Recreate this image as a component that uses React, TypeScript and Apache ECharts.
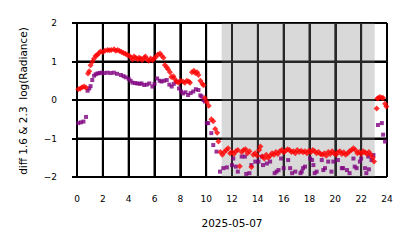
import React, { useEffect, useRef } from "react";
import * as echarts from "echarts";

const xTicks = [0, 2, 4, 6, 8, 10, 12, 14, 16, 18, 20, 22, 24];
const yTicks = [-2, -1, 0, 1, 2];
const xTitle = "2025-05-07";
const yTitle = "diff 1.6 & 2.3  log(Radiance)";
const shadeRange = [11.2, 23.05];

const redSeries: [number, number][] = [
  [0.1, 0.28], [0.25, 0.3], [0.4, 0.33], [0.55, 0.35], [0.7, 0.32], [0.85, 0.69], [0.95, 0.75], [1.05, 0.9],
  [1.2, 1.0], [1.32, 1.08], [1.45, 1.15], [1.57, 1.17], [1.7, 1.22], [1.83, 1.26], [2.0, 1.25], [2.15, 1.28],
  [2.35, 1.3], [2.5, 1.29], [2.65, 1.3], [2.87, 1.32], [3.0, 1.28], [3.15, 1.3], [3.3, 1.27], [3.45, 1.25],
  [3.6, 1.22], [3.75, 1.2], [3.9, 1.17], [4.05, 1.15], [4.2, 1.1], [4.3, 1.05], [4.42, 1.13], [4.55, 1.1],
  [4.7, 1.05], [4.8, 1.1], [4.93, 1.08], [5.05, 1.03], [5.2, 1.1], [5.3, 1.13], [5.45, 1.05], [5.55, 1.02],
  [5.7, 1.08], [5.85, 1.03], [5.95, 1.08], [6.1, 1.12], [6.25, 1.18], [6.43, 1.21], [6.55, 1.15], [6.7, 1.1],
  [6.8, 0.91], [6.95, 0.85], [7.05, 0.8], [7.2, 0.72], [7.3, 0.6], [7.46, 0.62], [7.55, 0.55], [7.7, 0.48],
  [7.85, 0.45], [8.0, 0.5], [8.2, 0.48], [8.35, 0.45], [8.5, 0.5], [8.65, 0.48], [8.75, 0.45], [8.9, 0.72],
  [9.05, 0.76], [9.15, 0.7], [9.3, 0.72], [9.4, 0.65], [9.55, 0.5], [9.7, 0.42], [9.8, 0.38], [9.9, 0.05],
  [10.05, -0.05], [10.2, -0.15], [10.4, -0.5], [10.55, -0.55], [10.7, -0.75], [10.85, -0.85], [10.95, -1.08],
  [11.1, -1.35], [11.25, -1.42], [11.4, -1.35], [11.55, -1.3], [11.7, -1.25], [11.85, -1.38], [12.0, -1.35],
  [12.15, -1.4], [12.3, -1.33], [12.45, -1.3], [12.6, -1.72], [12.75, -1.35], [12.9, -1.3], [13.05, -1.28],
  [13.2, -1.38], [13.35, -1.33], [13.5, -1.74], [13.65, -1.42], [13.8, -1.38], [13.95, -1.45], [14.1, -1.3],
  [14.2, -1.21], [14.35, -1.47], [14.5, -1.52], [14.65, -1.42], [14.8, -1.5], [14.95, -1.45], [15.1, -1.38],
  [15.25, -1.42], [15.4, -1.35], [15.55, -1.4], [15.7, -1.33], [15.85, -1.3], [16.0, -1.36], [16.15, -1.32],
  [16.3, -1.28], [16.45, -1.3], [16.6, -1.35], [16.75, -1.33], [16.9, -1.38], [17.05, -1.3], [17.2, -1.35],
  [17.35, -1.32], [17.5, -1.36], [17.65, -1.33], [17.8, -1.38], [17.95, -1.32], [18.1, -1.36], [18.25, -1.3],
  [18.4, -1.33], [18.55, -1.38], [18.7, -1.35], [18.85, -1.4], [19.0, -1.42], [19.15, -1.38], [19.3, -1.45],
  [19.45, -1.35], [19.6, -1.4], [19.75, -1.33], [19.9, -1.38], [20.05, -1.42], [20.2, -1.36], [20.35, -1.33],
  [20.5, -1.4], [20.65, -1.36], [20.8, -1.42], [20.95, -1.38], [21.1, -1.33], [21.25, -1.3], [21.4, -1.25],
  [21.55, -1.3], [21.7, -1.38], [21.85, -1.35], [22.0, -1.4], [22.15, -1.33], [22.3, -1.36], [22.45, -1.4],
  [22.6, -1.35], [22.75, -1.42], [22.9, -1.5], [23.0, -1.6], [23.2, -0.22], [23.25, 0.04], [23.35, 0.05],
  [23.45, 0.08], [23.6, 0.06], [23.7, 0.05], [23.85, -0.1], [23.95, -0.17],
];

const purpleSeries: [number, number][] = [
  [0.1, -0.6], [0.3, -0.58], [0.5, -0.56], [0.7, -0.44], [0.82, 0.24], [0.95, 0.3], [1.05, 0.36], [1.18, 0.52],
  [1.32, 0.63], [1.45, 0.67], [1.6, 0.69], [1.75, 0.7], [1.9, 0.71], [2.1, 0.7], [2.35, 0.71], [2.6, 0.7],
  [2.85, 0.71], [3.1, 0.68], [3.4, 0.65], [3.6, 0.62], [3.77, 0.59], [4.0, 0.55], [4.15, 0.5], [4.3, 0.45],
  [4.5, 0.44], [4.67, 0.43], [4.85, 0.42], [5.0, 0.43], [5.2, 0.39], [5.4, 0.4], [5.6, 0.43], [5.84, 0.35],
  [6.0, 0.42], [6.2, 0.56], [6.4, 0.5], [6.55, 0.48], [6.75, 0.5], [6.95, 0.52], [7.15, 0.4], [7.33, 0.35],
  [7.5, 0.42], [7.7, 0.48], [7.9, 0.3], [8.05, 0.22], [8.2, 0.17], [8.4, 0.2], [8.6, 0.13], [8.8, 0.18],
  [9.0, 0.22], [9.2, 0.28], [9.4, 0.26], [9.55, 0.12], [9.65, 0.09], [9.8, 0.0], [9.9, -0.04], [10.05, -0.6],
  [10.16, -0.6], [10.4, -0.86], [10.55, -1.17], [10.8, -1.34], [11.07, -1.86], [11.33, -1.77], [11.6, -1.75],
  [12.0, -1.69], [12.1, -1.52], [12.3, -1.73], [12.45, -1.86], [12.75, -1.47], [13.0, -1.47], [13.1, -1.92],
  [13.35, -1.9], [13.5, -1.69], [13.8, -1.6], [14.05, -1.6], [14.3, -1.47], [14.4, -1.69], [14.7, -1.65],
  [14.95, -1.6], [15.3, -1.9], [15.45, -1.86], [15.6, -1.82], [15.8, -1.52], [16.0, -1.77], [16.35, -1.56],
  [16.5, -1.77], [16.65, -1.9], [16.9, -1.86], [17.3, -1.9], [17.4, -1.86], [17.5, -1.77], [17.65, -1.73],
  [18.05, -1.52], [18.2, -1.56], [18.3, -1.69], [18.4, -1.9], [18.55, -1.86], [18.95, -1.56], [19.07, -1.82],
  [19.2, -1.77], [19.45, -1.6], [19.7, -1.86], [19.85, -1.6], [20.2, -1.56], [20.5, -1.77], [20.6, -1.77],
  [20.9, -1.82], [21.1, -1.9], [21.4, -1.52], [21.5, -1.73], [21.65, -1.77], [21.9, -1.6], [22.0, -1.52],
  [22.3, -1.77], [22.4, -1.9], [22.55, -1.47], [22.6, -1.8], [22.8, -1.56], [22.95, -1.43], [23.3, -0.65],
  [23.6, -0.6], [23.7, -0.9], [23.85, -1.08],
];

const FONT = "DejaVu Sans";

export default function App() {
  const ref = useRef<HTMLDivElement>(null);
  useEffect(() => {
    document.body.style.margin = "0";
    if (!ref.current) return;
    const chart = echarts.init(ref.current, null, { renderer: "svg" });
    const xMin = xTicks[0];
    const xMax = xTicks[xTicks.length - 1];
    const yMin = yTicks[0];
    const yMax = yTicks[yTicks.length - 1];
    // half-width of a ~2px grid line, in data units of each axis
    const dx = ((xMax - xMin) / 310) * 1;
    const dy = ((yMax - yMin) / 154) * 1;
    const gridBands = [
      ...xTicks.map((v) => [
        { xAxis: v - dx, yAxis: yMin },
        { xAxis: v + dx, yAxis: yMax },
      ]),
      ...yTicks.map((v) => [
        { xAxis: xMin, yAxis: v - dy },
        { xAxis: xMax, yAxis: v + dy },
      ]),
    ];
    chart.setOption({
      animation: false,
      grid: { left: 77, right: 27, top: 23, bottom: 71 },
      xAxis: {
        type: "value",
        min: xMin,
        max: xMax,
        interval: 2,
        axisLine: { show: true, lineStyle: { color: "#000", width: 2 } },
        axisTick: { show: true, length: 5, lineStyle: { color: "#000", width: 2 } },
        splitLine: { show: true, lineStyle: { color: "#000", width: 2 } },
        axisLabel: { fontSize: 9, color: "#000", fontFamily: FONT, margin: 17 },
      },
      yAxis: {
        type: "value",
        min: yMin,
        max: yMax,
        interval: 1,
        axisLine: { show: true, lineStyle: { color: "#000", width: 2 } },
        axisTick: { show: true, length: 5, lineStyle: { color: "#000", width: 2 } },
        splitLine: { show: true, lineStyle: { color: "#000", width: 2 } },
        axisLabel: {
          fontSize: 9,
          color: "#000",
          fontFamily: FONT,
          margin: 20,
          formatter: (v: number) => String(v).replace("-", "\u2212"),
        },
      },
      graphic: [
        {
          type: "text",
          x: 232,
          y: 223,
          style: { text: xTitle, fontSize: 10.5, fontFamily: FONT, fill: "#000", align: "center", verticalAlign: "middle" },
        },
        {
          type: "text",
          x: 23,
          y: 101,
          rotation: Math.PI / 2,
          style: { text: yTitle, fontSize: 10.5, fontFamily: FONT, fill: "#000", align: "center", verticalAlign: "middle" },
        },
      ],
      series: [
        {
          type: "scatter",
          data: [],
          z: 1,
          silent: true,
          markArea: {
            silent: true,
            itemStyle: { color: "#000000" },
            label: { show: false },
            emphasis: { disabled: true },
            data: gridBands,
          },
        },
        {
          type: "scatter",
          data: purpleSeries,
          symbol: "rect",
          symbolSize: 4,
          itemStyle: { color: "#800080" },
          z: 2,
        },
        {
          type: "scatter",
          data: redSeries,
          symbol: "diamond",
          symbolSize: 6,
          itemStyle: { color: "#ff0000" },
          z: 3,
        },
        {
          type: "scatter",
          data: [],
          z: 5,
          silent: true,
          markArea: {
            silent: true,
            itemStyle: { color: "rgba(128,128,128,0.3)" },
            data: [[{ xAxis: shadeRange[0], yAxis: yMin }, { xAxis: shadeRange[1], yAxis: yMax }]],
          },
        },
      ],
    });
    return () => chart.dispose();
  }, []);
  return <div ref={ref} style={{ width: 414, height: 248 }} />;
}
